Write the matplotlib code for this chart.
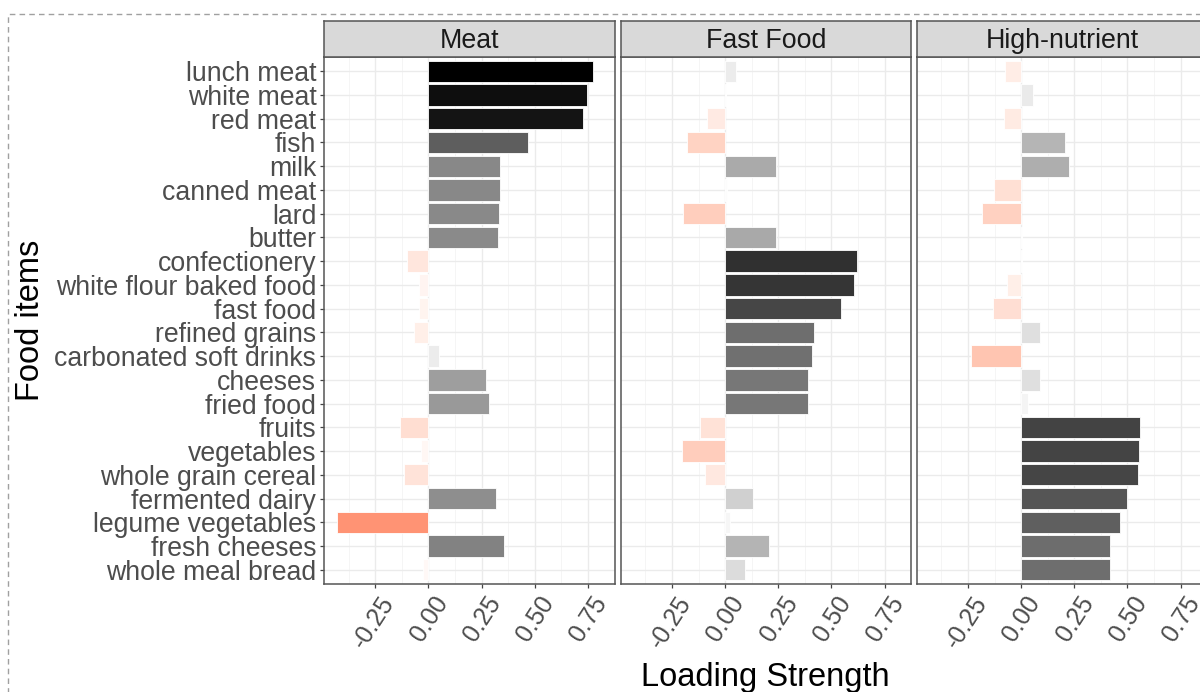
import numpy as np
import matplotlib.pyplot as plt
from matplotlib.patches import Rectangle
from matplotlib.transforms import ScaledTranslation

plt.rcParams['font.family'] = ['Liberation Sans', 'DejaVu Sans']

# food items, top to bottom
items = ["lunch meat", "white meat", "red meat", "fish", "milk", "canned meat",
         "lard", "butter", "confectionery", "white flour baked food", "fast food",
         "refined grains", "carbonated soft drinks", "cheeses", "fried food",
         "fruits", "vegetables", "whole grain cereal", "fermented dairy",
         "legume vegetables", "fresh cheeses", "whole meal bread"]

factors = ["Meat", "Fast Food", "High-nutrient"]

# factor loadings per dietary pattern
meat = [0.776, 0.744, 0.726, 0.467, 0.335, 0.335, 0.332, 0.329, -0.102, -0.043,
        -0.046, -0.067, 0.050, 0.271, 0.286, -0.134, -0.033, -0.113, 0.317,
        -0.431, 0.353, -0.027]
fast_food = [0.050, 0.005, -0.084, -0.180, 0.237, 0.008, -0.199, 0.240, 0.621,
             0.604, 0.546, 0.417, 0.408, 0.389, 0.389, -0.119, -0.203, -0.093,
             0.129, 0.023, 0.208, 0.094]
high_nutrient = [-0.075, 0.058, -0.082, 0.205, 0.224, -0.128, -0.186, 0.004,
                 0.002, -0.067, -0.133, 0.088, -0.236, 0.088, 0.030, 0.557,
                 0.552, 0.548, 0.496, 0.463, 0.419, 0.416]

loadings = [meat, fast_food, high_nutrient]

x_ticks = [-0.25, 0.0, 0.25, 0.5, 0.75]
x_tick_labels = ["-0.25", "0.00", "0.25", "0.50", "0.75"]


# diverging fill (red - white - black), mixed in Lab space
M = np.array([[0.4124, 0.3576, 0.1805],
              [0.2126, 0.7152, 0.0722],
              [0.0193, 0.1192, 0.9505]])
WHITE_PT = np.array([0.95047, 1.0, 1.08883])


def to_lab(rgb):
    c = np.asarray(rgb, float)
    lin = np.where(c <= 0.04045, c / 12.92, ((c + 0.055) / 1.055) ** 2.4)
    xyz = M @ lin / WHITE_PT
    f = np.where(xyz > 0.008856, np.cbrt(xyz), 7.787 * xyz + 16 / 116)
    return np.array([116 * f[1] - 16, 500 * (f[0] - f[1]), 200 * (f[1] - f[2])])


def from_lab(lab):
    L, a, b = lab
    fy = (L + 16) / 116
    fx = fy + a / 500
    fz = fy - b / 200
    f = np.array([fx, fy, fz])
    xyz = np.where(f ** 3 > 0.008856, f ** 3, (f - 16 / 116) / 7.787) * WHITE_PT
    lin = np.linalg.inv(M) @ xyz
    lin = np.clip(lin, 0, 1)
    c = np.where(lin <= 0.0031308, 12.92 * lin, 1.055 * lin ** (1 / 2.4) - 0.055)
    return tuple(np.clip(c, 0, 1))


LAB_WHITE = to_lab([1, 1, 1])
LAB_LOW = to_lab([1, 0, 0])
LAB_HIGH = to_lab([0, 0, 0])
vmax = max(abs(v) for vals in loadings for v in vals)


def fill(v):
    t = v / vmax
    end = LAB_HIGH if t >= 0 else LAB_LOW
    return from_lab(LAB_WHITE + abs(t) * (end - LAB_WHITE))


# shared x range with 5% padding
lo = min(min(v) for v in loadings)
hi = max(max(v) for v in loadings)
pad = 0.05 * (hi - lo)
xlim = (lo - pad, hi + pad)

W, H = 1200, 692
fig = plt.figure(figsize=(W / 100, H / 100), dpi=100)

# dashed outer frame
fig.patches.append(Rectangle((8 / W, -0.2), 2, 1.2 - 14 / H, transform=fig.transFigure,
                             fill=False, ec='#a0a0a0', lw=1, ls=(0, (4, 3))))

lefts = [324, 620.7, 916.7]
pw = 290.5
p_top, p_bot = 57, 584
s_top = 21
ypos = np.arange(len(items))

for k, (name, vals) in enumerate(zip(factors, loadings)):
    ax = fig.add_axes([lefts[k] / W, (H - p_bot) / H, pw / W, (p_bot - p_top) / H])
    ax.barh(ypos, vals, height=0.9, color=[fill(v) for v in vals],
            edgecolor='white', linewidth=0.6, zorder=3)
    ax.set_xlim(xlim)
    ax.set_ylim(len(items) - 0.4, -0.6)
    ax.set_xticks(x_ticks)
    ax.set_xticks(np.arange(-0.375, 0.9, 0.25), minor=True)
    ax.set_xticklabels([])
    ax.grid(which='major', color='#EBEBEB', lw=1.0, zorder=0)
    ax.grid(which='minor', axis='x', color='#F4F4F4', lw=0.6, zorder=0)
    ax.set_axisbelow(True)
    for sp in ax.spines.values():
        sp.set_color('#555555')
        sp.set_linewidth(1.1)
    ax.tick_params(axis='x', which='major', length=3, width=0.9, color='#444444')
    ax.tick_params(axis='x', which='minor', length=0)
    ax.set_yticks(ypos)
    if k == 0:
        ax.set_yticklabels(items, fontsize=19.2, color='#4D4D4D')
        ax.tick_params(axis='y', length=3, width=0.9, color='#444444', pad=2.5)
    else:
        ax.set_yticklabels([])
        ax.tick_params(axis='y', length=0)

    # rotated tick labels under each panel
    off = ScaledTranslation(4 / 100, -8 / 100, fig.dpi_scale_trans)
    for xt, lab in zip(x_ticks, x_tick_labels):
        ax.text(xt, 0, lab, transform=ax.get_xaxis_transform() + off,
                rotation=57, rotation_mode='anchor', ha='right', va='top',
                fontsize=18, color='#4D4D4D', clip_on=False)

    # facet strip
    sax = fig.add_axes([lefts[k] / W, (H - p_top) / H, pw / W, (p_top - s_top) / H])
    sax.set_facecolor('#D9D9D9')
    sax.set_xticks([])
    sax.set_yticks([])
    for sp in sax.spines.values():
        sp.set_color('#555555')
        sp.set_linewidth(1.1)
    sax.text(0.5, 0.45, name, ha='center', va='center', fontsize=19.3,
             color='#1A1A1A', transform=sax.transAxes)

fig.text(31 / W, 1 - 320 / H, "Food items", rotation=90, ha='center', va='center',
         fontsize=23.5, color='black')
fig.text(765.5 / W, 1 - 686 / H, "Loading Strength", ha='center', va='baseline',
         fontsize=23.5, color='black')

fig.savefig("out.png", dpi=100)
